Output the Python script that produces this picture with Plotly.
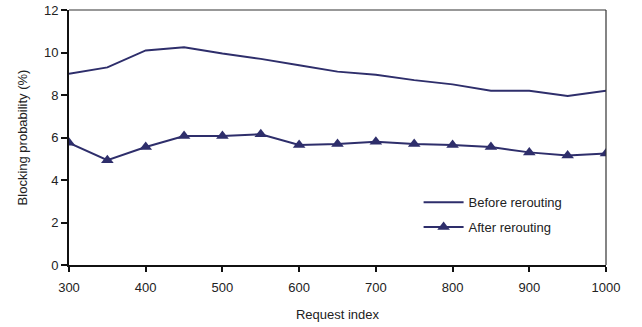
import plotly.graph_objects as go

request_index = [300, 350, 400, 450, 500, 550, 600, 650, 700, 750, 800, 850, 900, 950, 1000]
before_rerouting = [9.0, 9.3, 10.1, 10.25, 9.95, 9.7, 9.4, 9.1, 8.95, 8.7, 8.5, 8.2, 8.2, 7.95, 8.2]
after_rerouting = [5.75, 4.93, 5.55, 6.07, 6.07, 6.15, 5.65, 5.7, 5.8, 5.7, 5.65, 5.55, 5.3, 5.15, 5.25]

navy = "#2E2E6B"
fam = "Liberation Sans, Arial, sans-serif"
font = dict(family=fam, size=13, color="#222222")

fig = go.Figure()
fig.add_trace(go.Scatter(x=request_index, y=before_rerouting, mode="lines",
                         name="Before rerouting", legendgroup="a",
                         line=dict(color=navy, width=2)))
fig.add_trace(go.Scatter(x=request_index, y=after_rerouting, mode="lines+markers",
                         name="After rerouting", legendgroup="b",
                         line=dict(color=navy, width=2),
                         marker=dict(symbol="triangle-up", size=11, color=navy)))

fig.update_layout(
    width=642, height=327,
    margin=dict(l=69, r=36, t=10, b=62),
    plot_bgcolor="white", paper_bgcolor="white",
    font=font,
    legend=dict(x=0.651, y=0.305, xanchor="left", yanchor="top",
                bgcolor="rgba(0,0,0,0)", font=dict(family=fam, size=13, color="#222222"),
                tracegroupgap=5, itemwidth=40),
    xaxis=dict(range=[300, 1000], dtick=100, tick0=300, showgrid=False, zeroline=False,
               automargin=False,
               showline=True, linecolor="#111111", linewidth=2,
               ticks="outside", ticklen=5, tickcolor="#111111", tickwidth=1.5,
               ticklabelstandoff=4, ticklabeloverflow="allow",
               tickfont=dict(family=fam, size=13, color="#222222"),
               title=dict(text="Request index", standoff=16, font=dict(family=fam, size=13))),
    yaxis=dict(range=[0, 12], dtick=2, showgrid=False, zeroline=False,
               automargin=False,
               showline=True, linecolor="#111111", linewidth=2,
               ticks="outside", ticklen=6, tickcolor="#111111", tickwidth=1.5,
               ticklabeloverflow="allow",
               tickfont=dict(family=fam, size=13, color="#222222"),
               title=dict(text="Blocking probability (%)", standoff=13, font=dict(family=fam, size=13))),
    shapes=[
        dict(type="line", xref="paper", yref="paper", x0=0, x1=1, y0=1, y1=1,
             line=dict(color="#333333", width=1.2)),
        dict(type="line", xref="paper", yref="paper", x0=1, x1=1, y0=0, y1=1,
             line=dict(color="#333333", width=1.2)),
    ],
)

fig.write_html("out.html", config={"displayModeBar": False},
               post_script="document.body.style.margin='0px';")
